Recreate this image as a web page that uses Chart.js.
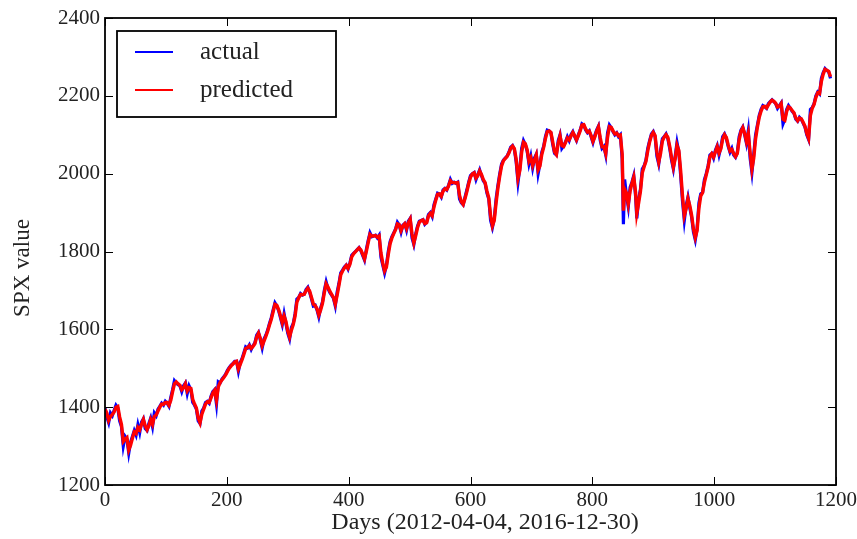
<!DOCTYPE html>
<html><head><meta charset="utf-8">
<script src="https://cdn.jsdelivr.net/npm/chart.js@4/dist/chart.umd.min.js"></script>
<style>html,body{margin:0;padding:0;background:#fff}#wrap{width:857px;height:539px}</style>
</head><body><div id="wrap"><canvas id="c" width="857" height="539"></canvas></div>
<script>
const days=[
0,3,6,9,12,15,18,21,24,27,
30,33,36,39,42,45,48,51,54,57,
60,63,66,69,72,75,78,81,84,87,
90,93,96,99,102,105,108,111,114,117,
120,123,126,129,132,135,138,141,144,147,
150,153,156,159,162,165,168,171,174,177,
180,183,186,189,192,195,198,201,204,207,
210,213,216,219,222,225,228,231,234,237,
240,243,246,249,252,255,258,261,264,267,
270,273,276,279,282,285,288,291,294,297,
300,303,306,309,312,315,318,321,324,327,
330,333,336,339,342,345,348,351,354,357,
360,363,366,369,372,375,378,381,384,387,
390,393,396,399,402,405,408,411,414,417,
420,423,426,429,432,435,438,441,444,447,
450,453,456,459,462,465,468,471,474,477,
480,483,486,489,492,495,498,501,504,507,
510,513,516,519,522,525,528,531,534,537,
540,543,546,549,552,555,558,561,564,567,
570,573,576,579,582,585,588,591,594,597,
600,603,606,609,612,615,618,621,624,627,
630,633,636,639,642,645,648,651,654,657,
660,663,666,669,672,675,678,681,684,687,
690,693,696,699,702,705,708,711,714,717,
720,723,726,729,732,735,738,741,744,747,
750,753,756,759,762,765,768,771,774,777,
780,783,786,789,792,795,798,801,804,807,
810,813,816,819,822,825,828,831,834,837,
840,843,846,849,
851,853,856,859,862,865,868,871,873,
876,879,882,885,888,891,894,897,900,903,
906,909,912,915,918,921,924,927,930,933,
936,939,942,945,948,951,954,957,960,963,
966,969,972,975,978,981,984,987,990,993,
996,999,1002,1005,1008,1011,1014,1017,1020,1023,
1026,1029,1032,1035,1038,1041,1044,1047,1050,1053,
1056,1059,1062,1065,1068,1071,1074,1077,1080,1083,
1086,1089,1092,1095,1098,1101,1104,1107,1110,1113,
1116,1119,1122,1125,1128,1131,1134,1137,1140,1143,
1146,1149,1152,1155,1158,1161,1164,1167,1170,1173,
1176,1179,1182,1185,1188,1191];

const actual=[
1398,1375,1360,1385,1378,1392,1405,1398,1365,1350,
1300,1325,1318,1282,1310,1325,1340,1328,1355,1335,
1362,1370,1345,1340,1358,1372,1350,1385,1378,1395,
1402,1410,1405,1415,1410,1402,1425,1445,1468,1462,
1458,1455,1440,1455,1462,1435,1455,1445,1412,1405,
1395,1365,1358,1390,1398,1412,1415,1410,1428,1440,
1445,1408,1465,1462,1472,1478,1485,1495,1502,1508,
1512,1518,1518,1492,1515,1525,1540,1555,1552,1560,
1548,1558,1565,1585,1592,1572,1552,1575,1585,1598,
1615,1630,1650,1668,1660,1648,1630,1612,1640,1615,
1590,1575,1605,1615,1640,1678,1682,1692,1688,1690,
1702,1708,1695,1678,1660,1662,1650,1632,1655,1670,
1700,1722,1705,1695,1688,1680,1660,1695,1718,1745,
1752,1760,1765,1755,1770,1790,1795,1800,1805,1810,
1802,1790,1778,1805,1828,1848,1838,1840,1842,1835,
1842,1785,1765,1745,1765,1800,1825,1838,1848,1858,
1875,1868,1850,1868,1872,1855,1878,1885,1835,1818,
1845,1865,1878,1880,1882,1870,1875,1895,1900,1890,
1920,1935,1950,1948,1940,1958,1962,1958,1970,1985,
1975,1978,1975,1978,1935,1925,1920,1940,1958,1978,
1995,2000,2003,1985,1998,2010,1995,1982,1975,1950,
1935,1880,1862,1885,1935,1970,2000,2025,2035,2040,
2045,2055,2068,2072,2062,2030,1978,2015,2065,2085,
2075,2058,2025,2045,2015,2040,2050,2000,2025,2055,
2070,2095,2112,2110,2105,2075,2052,2048,2085,2100,
2065,2072,2082,2095,2085,2100,2108,2095,2085,2100,
2112,2128,2125,2112,2105,2110,2095,2080,2098,2112,
2122,2085,2065,2070,2048,2105,2125,2118,2108,2100,
2105,2095,2100,2038,
1870,1985,1945,1915,1965,1978,1995,1942,1885,
1935,1960,2012,2020,2035,2065,2085,2102,2108,2095,
2045,2025,2060,2090,2095,2102,2090,2065,2035,2012,
2045,2080,2055,1995,1930,1880,1918,1940,1912,1888,
1850,1830,1860,1925,1948,1952,1985,2000,2020,2048,
2052,2040,2060,2072,2048,2068,2095,2102,2090,2070,
2055,2065,2048,2042,2055,2095,2112,2120,2100,2078,
2110,2040,2003,2050,2100,2125,2150,2165,2175,2172,
2168,2180,2185,2190,2185,2180,2168,2175,2182,2128,
2140,2165,2175,2168,2160,2155,2140,2135,2145,2140,
2130,2120,2100,2088,2165,2170,2180,2200,2210,2205,
2245,2260,2270,2265,2262,2245];

const predicted=[
1395,1385,1366,1376,1381,1388,1400,1402,1375,1356,
1312,1318,1322,1290,1302,1320,1336,1332,1348,1342,
1356,1368,1352,1342,1352,1368,1356,1376,1380,1390,
1400,1408,1407,1412,1412,1405,1418,1440,1460,1465,
1460,1456,1445,1450,1460,1442,1450,1448,1420,1408,
1398,1372,1360,1382,1395,1408,1414,1412,1424,1436,
1443,1418,1452,1463,1470,1476,1483,1492,1500,1506,
1511,1516,1518,1498,1510,1522,1536,1551,1553,1558,
1551,1556,1563,1580,1590,1577,1558,1570,1582,1595,
1611,1626,1645,1664,1662,1651,1635,1617,1634,1620,
1596,1580,1598,1612,1634,1670,1681,1690,1689,1690,
1699,1706,1698,1682,1665,1661,1653,1637,1650,1667,
1694,1717,1709,1698,1690,1682,1665,1687,1713,1740,
1750,1758,1764,1757,1767,1786,1794,1799,1804,1809,
1804,1793,1781,1800,1823,1844,1840,1840,1841,1837,
1840,1796,1770,1750,1760,1792,1820,1835,1846,1856,
1871,1869,1854,1865,1871,1859,1874,1883,1845,1822,
1840,1861,1875,1879,1881,1872,1874,1891,1898,1892,
1914,1932,1947,1948,1942,1955,1961,1959,1968,1982,
1977,1977,1976,1977,1944,1928,1921,1936,1954,1974,
1991,1999,2002,1989,1995,2007,1998,1985,1977,1955,
1938,1891,1866,1880,1925,1963,1994,2020,2033,2039,
2044,2053,2065,2071,2064,2037,1988,2008,2055,2081,
2077,2061,2032,2041,2021,2035,2048,2010,2020,2049,
2067,2090,2108,2110,2106,2081,2056,2049,2078,2097,
2072,2070,2080,2092,2087,2097,2106,2098,2087,2097,
2110,2125,2126,2115,2107,2109,2098,2083,2094,2109,
2120,2092,2069,2069,2052,2094,2121,2119,2110,2102,
2104,2097,2099,2050,
1905,1960,1950,1922,1955,1975,1991,1952,1898,
1925,1955,2002,2018,2032,2059,2081,2098,2106,2098,
2055,2030,2052,2084,2094,2100,2093,2070,2042,2017,
2038,2073,2060,2007,1943,1892,1910,1936,1918,1893,
1858,1836,1854,1912,1943,1951,1978,1997,2016,2043,
2051,2043,2056,2069,2053,2064,2089,2100,2093,2074,
2058,2062,2052,2044,2052,2087,2108,2118,2104,2083,
2103,2054,2012,2040,2090,2120,2145,2161,2172,2173,
2169,2177,2184,2189,2186,2181,2171,2173,2180,2140,
2137,2160,2172,2169,2162,2156,2143,2136,2143,2141,
2132,2122,2104,2091,2150,2168,2178,2196,2208,2206,
2237,2256,2268,2266,2263,2249];

const seriesNames=['actual','predicted'];
const seriesColors=['#0000ff','#ff0000'];
const xTickValues=[0,200,400,600,800,1000,1200];
const yTickValues=[1200,1400,1600,1800,2000,2200,2400];
const xTitle='Days (2012-04-04, 2016-12-30)';
const yTitle='SPX value';

const FONT='"Liberation Serif", "DejaVu Serif", serif';

function pts(vals){return days.map((d,i)=>({x:d,y:vals[i]}));}

const frameTicks={
  id:'frameTicks',
  afterDraw(chart){
    const {ctx,chartArea:a,scales}=chart;
    ctx.save();
    ctx.strokeStyle='#000';
    ctx.lineWidth=1;
    const L=8;
    ctx.beginPath();
    xTickValues.forEach(v=>{
      const x=Math.round(scales.x.getPixelForValue(v))+0.5;
      ctx.moveTo(x,a.bottom);ctx.lineTo(x,a.bottom-L);
      ctx.moveTo(x,a.top);ctx.lineTo(x,a.top+L);
    });
    yTickValues.forEach(v=>{
      const y=Math.round(scales.y.getPixelForValue(v))+0.5;
      ctx.moveTo(a.left,y);ctx.lineTo(a.left+L,y);
      ctx.moveTo(a.right,y);ctx.lineTo(a.right-L,y);
    });
    ctx.stroke();
    ctx.lineWidth=1.8;
    ctx.strokeRect(a.left,a.top,a.right-a.left,a.bottom-a.top);
    ctx.fillStyle='#222';
    ctx.textAlign='center';ctx.textBaseline='middle';
    // x title
    ctx.font='24px '+FONT;
    ctx.fillText(xTitle,485,523);
    // y title
    ctx.save();
    ctx.translate(23,268);
    ctx.rotate(-Math.PI/2);
    ctx.font='23px '+FONT;
    ctx.fillText(yTitle,0,0);
    ctx.restore();
    // legend
    const bx=a.left+12, by=a.top+13, bw=219, bh=86;
    ctx.fillStyle='#fff';
    ctx.fillRect(bx,by,bw,bh);
    ctx.strokeStyle='#000';
    ctx.lineWidth=1.8;
    ctx.strokeRect(bx,by,bw,bh);
    ctx.font='25px '+FONT;
    ctx.textBaseline='middle';
    ctx.textAlign='left';
    chart.data.datasets.forEach((ds,i)=>{
      const ly=by+21+i*38;
      ctx.strokeStyle=ds.borderColor;
      ctx.lineWidth=2;
      ctx.beginPath();ctx.moveTo(bx+18,ly);ctx.lineTo(bx+56,ly);ctx.stroke();
      ctx.fillStyle='#222';
      ctx.fillText(ds.label,bx+83,ly);
    });
    ctx.restore();
  }
};

new Chart(document.getElementById('c'),{
  type:'line',
  data:{datasets:[
    {label:seriesNames[0],data:pts(actual),borderColor:seriesColors[0],borderWidth:3.2,pointRadius:0,tension:0,order:2},
    {label:seriesNames[1],data:pts(predicted),borderColor:seriesColors[1],borderWidth:3.4,pointRadius:0,tension:0,order:1}
  ]},
  options:{
    responsive:false,animation:false,devicePixelRatio:1,
    layout:{padding:{left:0,right:21,top:18,bottom:0}},
    plugins:{legend:{display:false},tooltip:{enabled:false}},
    scales:{
      x:{type:'linear',min:0,max:1200,
        afterFit(s){s.height=54;s.paddingLeft=0;s.paddingRight=0;},
        afterBuildTicks(s){s.ticks=xTickValues.map(v=>({value:v}));},
        grid:{display:false,drawTicks:false},border:{display:false},
        ticks:{color:'#222',font:{family:FONT,size:21},padding:3,maxRotation:0,autoSkip:false,callback:v=>String(v)},
        title:{display:false}
      },
      y:{type:'linear',min:1200,max:2400,
        afterFit(s){s.width=105;s.paddingTop=0;s.paddingBottom=0;},
        afterBuildTicks(s){s.ticks=yTickValues.map(v=>({value:v}));},
        grid:{display:false,drawTicks:false},border:{display:false},
        ticks:{color:'#222',font:{family:FONT,size:21},padding:5,autoSkip:false,callback:v=>String(v)},
        title:{display:false}
      }
    }
  },
  plugins:[frameTicks]
});
</script></body></html>
